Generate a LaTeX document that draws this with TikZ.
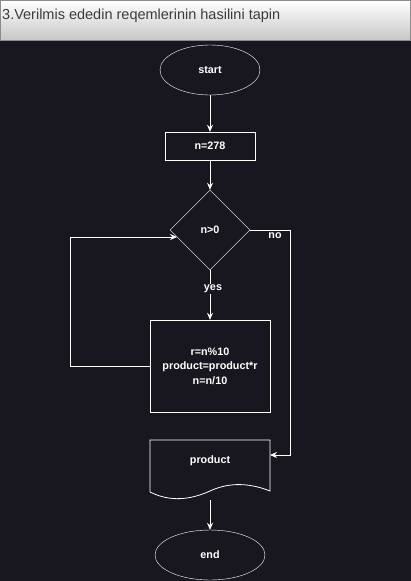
\documentclass[tikz,border=0pt]{standalone}
\usepackage{fontspec}
\setmainfont{Liberation Sans}
\usetikzlibrary{shapes.geometric,arrows.meta}
\definecolor{bgdark}{RGB}{24,23,31}
\definecolor{titlegray}{RGB}{60,60,60}
\begin{document}
\begin{tikzpicture}
[x=1pt,y=-1pt,
  termdecorate/.style={shape=ellipse,draw=white,minimum width=100pt,minimum height=50pt,inner sep=0pt},%
  boxdecorate/.style={shape=rectangle,draw=white,inner sep=0pt},%
  decisiondecorate/.style={shape=diamond,draw=white,minimum width=80pt,minimum height=80pt,inner sep=0pt},%
  labeldecorate/.style={text=white,font=\fontsize{10.8}{14.5}\selectfont\bfseries,align=center},%
  linedecorate/.style={-{Stealth[length=7pt,width=6pt]},white,line width=0.8pt}]
%% background and title
\fill[bgdark] (0,0) rectangle (411,581);
\useasboundingbox (0,0) rectangle (411,581);
\shade[top color=white,bottom color=black!22,draw=black!45] (0.5,0.5) rectangle (410.5,40);
\node (title) at (2,16) [anchor=west,inner sep=0pt,text=titlegray,font=\fontsize{14.5}{16}\selectfont]
  {3.Verilmis ededin reqemlerinin hasilini tapin};
%% nodes or vertices
\node (start) at (210,70) [termdecorate,labeldecorate] {start};
\node (init) at (210,146) [boxdecorate,labeldecorate,minimum width=90pt,minimum height=28pt] {n=278};
\node (test) at (210,230) [decisiondecorate,labeldecorate] {n>0};
\node (body) at (210,366) [boxdecorate,labeldecorate,minimum width=120pt,minimum height=92pt] {r=n\%10\\product=product*r\\n=n/10};
\node (out) at (210,461) [labeldecorate,minimum width=120pt,minimum height=42pt,inner sep=0pt] {product};
\node (end) at (210,555) [termdecorate,labeldecorate,minimum width=110pt] {end};
%% document shape of output
\draw[white,line width=0.8pt] (150,492) -- (150,440) -- (270,440) -- (270,491)
  .. controls (245,481) and (225,484) .. (210,491)
  .. controls (190,500) and (170,502) .. (150,492);
\coordinate (outbottom) at (210,500);
\coordinate (loopin) at (177,237);
\coordinate (outin) at (270,455);
%% edges or lines
\path
\foreach \startnode/\endnode in {start/init, init/test, test/body, outbottom/end} {
  (\startnode) edge[linedecorate] (\endnode)
};
\draw[linedecorate] (body.west) -- (70,366) -- (70,237) -- (loopin);
\draw[linedecorate] (test.east) -- (290,230) -- (290,455) -- (outin);
\node (yes) at (213,289) [labeldecorate,fill=bgdark,inner sep=1pt] {yes};
\node (no) at (275,236) [labeldecorate,fill=bgdark,inner sep=1pt] {no};
\end{tikzpicture}
\end{document}
